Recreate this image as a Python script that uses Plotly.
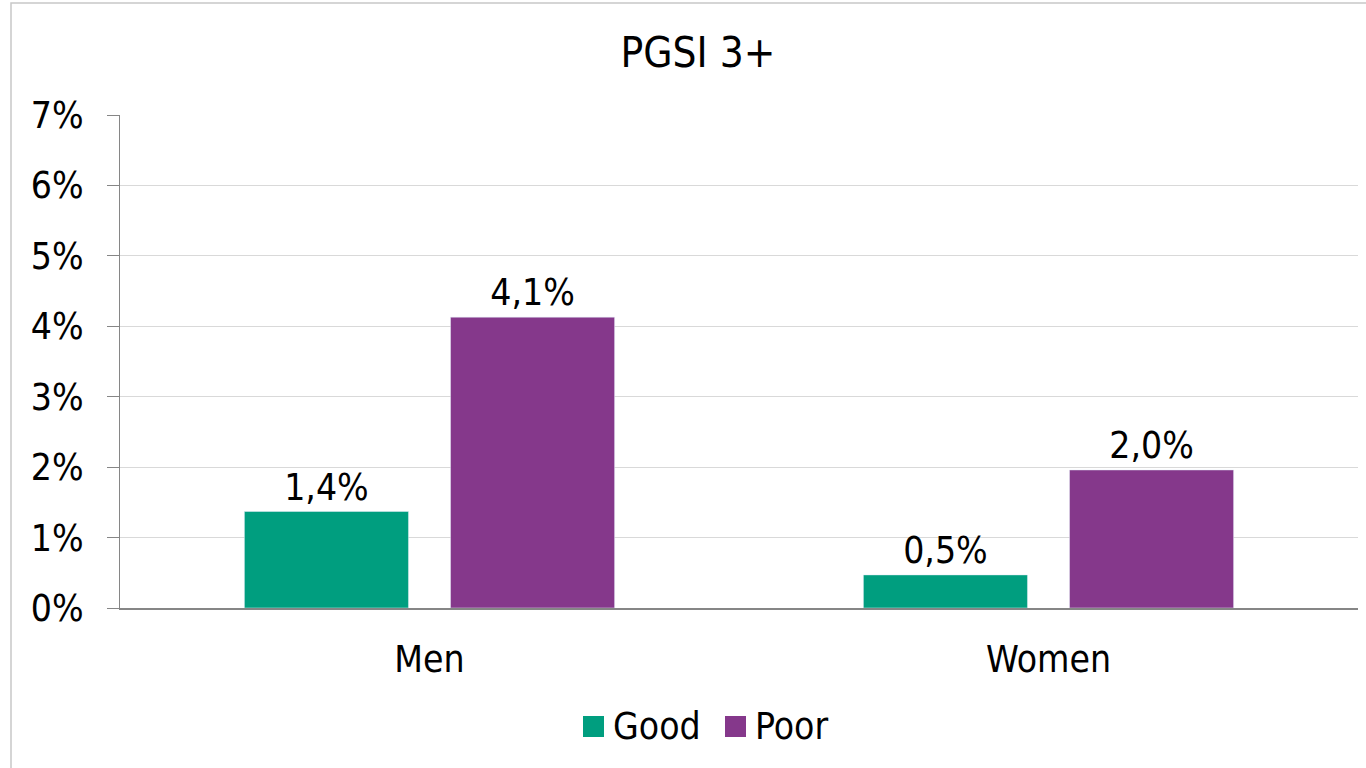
import plotly.graph_objects as go

categories = ["Men", "Women"]
good = [1.37, 0.47]
poor = [4.13, 1.96]
series_names = ["Good", "Poor"]
tick_vals = [0, 1, 2, 3, 4, 5, 6, 7]
tick_text = ["0%", "1%", "2%", "3%", "4%", "5%", "6%", "7%"]

FONT = "DejaVu Sans Condensed, DejaVu Sans, sans-serif"
GREEN = "#009E7F"
PURPLE = "#85388B"
colors = [GREEN, PURPLE]

W, H = 1366, 768
L, R, T, B = 120, 8, 115, 160
PW, PH = W - L - R, H - T - B

def px(x):
    return (x - L) / PW

def py(y):
    return (H - B - y) / PH

fig = go.Figure()
for name, vals, col in [(series_names[0], good, GREEN), (series_names[1], poor, PURPLE)]:
    fig.add_trace(go.Bar(
        x=categories, y=vals, name=name, marker_color=col,
        texttemplate="%{y:.1f}%", textposition="outside",
        textfont=dict(size=37, color="#000000", family=FONT),
        cliponaxis=False, showlegend=False,
    ))

shapes = [dict(type="rect", xref="paper", yref="paper",
               x0=px(11), x1=1.2, y0=-0.6, y1=py(3),
               line=dict(color="#C8C8C8", width=1.5), fillcolor="rgba(0,0,0,0)", layer="below")]
annotations = []
legend_sq_x = [583, 725]
for i, name in enumerate(series_names):
    x0 = legend_sq_x[i]
    shapes.append(dict(type="rect", xref="paper", yref="paper",
                       x0=px(x0), x1=px(x0 + 21), y0=py(737), y1=py(716),
                       line=dict(width=0), fillcolor=colors[i]))
    annotations.append(dict(text=name, xref="paper", yref="paper", x=px(x0 + 28), y=py(726),
                            xanchor="left", yanchor="middle", showarrow=False,
                            font=dict(size=37, family=FONT, color="#000000")))

fig.update_layout(
    width=W, height=H,
    margin=dict(l=L, r=R, t=T, b=B),
    paper_bgcolor="white", plot_bgcolor="white",
    separators=", ",
    font=dict(family=FONT, size=37, color="#000000"),
    title=dict(text="PGSI 3+", x=px(698), xref="paper", xanchor="center", y=1 - 52 / H, yanchor="middle",
               font=dict(size=42, family=FONT, color="#000000")),
    barmode="group", bargap=0.334, bargroupgap=0.204,
    showlegend=False,
    shapes=shapes, annotations=annotations,
)
fig.update_yaxes(range=[0, 7], tickvals=tick_vals, ticktext=tick_text, showgrid=True,
                 gridcolor="#D9D9D9", gridwidth=1, showline=True, linecolor="#868686",
                 ticks="outside", ticklen=12, tickcolor="#868686", zeroline=False,
                 ticklabelstandoff=16, tickfont=dict(size=37, family=FONT))
fig.update_xaxes(showline=True, linecolor="#868686", linewidth=1.5, ticks="",
                 ticklabelstandoff=18, tickfont=dict(size=37, family=FONT))

fig.write_html("out.html", config={"displayModeBar": False})

with open("out.html", "r", encoding="utf-8") as f:
    html = f.read()
html = html.replace("<head>", "<head><style>html,body{margin:0;padding:0;overflow:hidden;}</style>", 1)
with open("out.html", "w", encoding="utf-8") as f:
    f.write(html)
